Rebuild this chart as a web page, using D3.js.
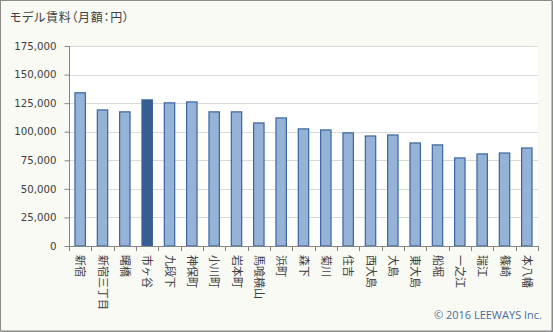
<!DOCTYPE html>
<html>
<head>
<meta charset="utf-8">
<script src="https://cdn.jsdelivr.net/npm/d3@7"></script>
<style>
  html, body { margin: 0; padding: 0; background: #ffffff; }
  svg { display: block; }
</style>
</head>
<body>
<svg id="chart" width="553" height="332"></svg>
<script>
// Station names along the line (x axis)
const stations = ["新宿", "新宿三丁目", "曙橋", "市ヶ谷", "九段下", "神保町", "小川町", "岩本町",
  "馬喰横山", "浜町", "森下", "菊川", "住吉", "西大島", "大島", "東大島", "船堀", "一之江",
  "瑞江", "篠崎", "本八幡"];
// Model monthly rent in yen for each station
const rents = [134500, 119500, 117800, 128300, 125700, 126500, 117800, 117800,
  108100, 112500, 102900, 102000, 99400, 96700, 97600, 90600, 88900, 77500,
  81000, 81800, 86200];
// Station drawn in the accent colour
const highlighted = "市ヶ谷";
// Y axis ticks
const yTicks = [0, 25000, 50000, 75000, 100000, 125000, 150000, 175000];

const svg = d3.select("#chart");
const W = 553, H = 332;
const plot = { left: 69, right: 538, top: 46, bottom: 246 };

// Frame and background
svg.append("rect").attr("x", 0.5).attr("y", 0.5).attr("width", W - 1.5).attr("height", H - 1.5)
  .attr("fill", "#f8faf3").attr("stroke", "#8a8a8a").attr("stroke-width", 1);
svg.append("line").attr("x1", W - 0.5).attr("x2", W - 0.5).attr("y1", 1).attr("y2", H)
  .attr("stroke", "#8a8a8a");
svg.append("line").attr("x1", 1).attr("x2", W).attr("y1", H - 0.5).attr("y2", H - 0.5)
  .attr("stroke", "#8a8a8a");

svg.append("rect").attr("x", plot.left).attr("y", plot.top)
  .attr("width", plot.right - plot.left).attr("height", plot.bottom - plot.top)
  .attr("fill", "#ffffff");

const x = d3.scaleBand().domain(stations).range([plot.left, plot.right]).paddingInner(0.49).paddingOuter(0.245);
const y = d3.scaleLinear().domain([0, 175000]).range([plot.bottom, plot.top]);

// Gridlines
svg.append("g").selectAll("line").data(yTicks.filter(d => d > 0)).join("line")
  .attr("x1", plot.left).attr("x2", plot.right)
  .attr("y1", d => Math.round(y(d)) + 0.5).attr("y2", d => Math.round(y(d)) + 0.5)
  .attr("stroke", "#d9d9d9").attr("stroke-width", 1);

// Bars
svg.append("g").selectAll("rect").data(stations).join("rect")
  .attr("x", d => x(d) + 0.5)
  .attr("y", (d, i) => y(rents[i]) + 0.5)
  .attr("width", x.bandwidth() - 1)
  .attr("height", (d, i) => plot.bottom - y(rents[i]) - 0.5)
  .attr("fill", d => d === highlighted ? "#355f91" : "#95b3d7")
  .attr("stroke", "#3a64a0").attr("stroke-width", 1.2);

// Y axis
const yAxis = svg.append("g").attr("transform", `translate(${plot.left + 0.5},0)`)
  .call(d3.axisLeft(y).tickValues(yTicks).tickSize(5).tickPadding(8)
    .tickFormat(d3.format(",")));
yAxis.select(".domain").attr("stroke", "#868686").attr("d", `M0,${plot.top}V${plot.bottom}`);
yAxis.selectAll(".tick line").attr("stroke", "#868686");
yAxis.selectAll(".tick text").attr("font-family", "DejaVu Sans, Verdana, sans-serif")
  .attr("font-size", "10.2px").attr("fill", "#404040");

// X axis with ticks at band boundaries
const bounds = d3.range(stations.length + 1).map(i => plot.left + i * (plot.right - plot.left) / stations.length);
const xg = svg.append("g");
xg.append("line").attr("x1", plot.left).attr("x2", plot.right)
  .attr("y1", plot.bottom + 0.5).attr("y2", plot.bottom + 0.5).attr("stroke", "#868686");
xg.selectAll("line.tk").data(bounds).join("line").attr("class", "tk")
  .attr("x1", d => Math.round(d) + 0.5).attr("x2", d => Math.round(d) + 0.5)
  .attr("y1", plot.bottom).attr("y2", plot.bottom + 5).attr("stroke", "#868686");
xg.selectAll("text").data(stations).join("text")
  .attr("transform", d => `translate(${x(d) + x.bandwidth() / 2 - 4},${plot.bottom + 9}) rotate(90)`)
  .attr("text-anchor", "start")
  .attr("font-family", "Noto Sans CJK JP, sans-serif")
  .attr("font-size", "11px").attr("fill", "#404040")
  .text(d => d);

// Title
svg.append("text").attr("x", 10).attr("y", 22)
  .attr("font-family", "Noto Sans CJK JP, sans-serif").attr("font-size", "12px")
  .style("font-feature-settings", "'palt'")
  .style("letter-spacing", "0.7px")
  .attr("fill", "#404040").text("モデル賃料（月額：円）");

// Credit
svg.append("text").attr("x", 542).attr("y", 319).attr("text-anchor", "end")
  .attr("font-family", "Open Sans, sans-serif").attr("font-size", "11px")
  .attr("fill", "#4a6a9c").text("© 2016 LEEWAYS Inc.");
</script>
</body>
</html>
